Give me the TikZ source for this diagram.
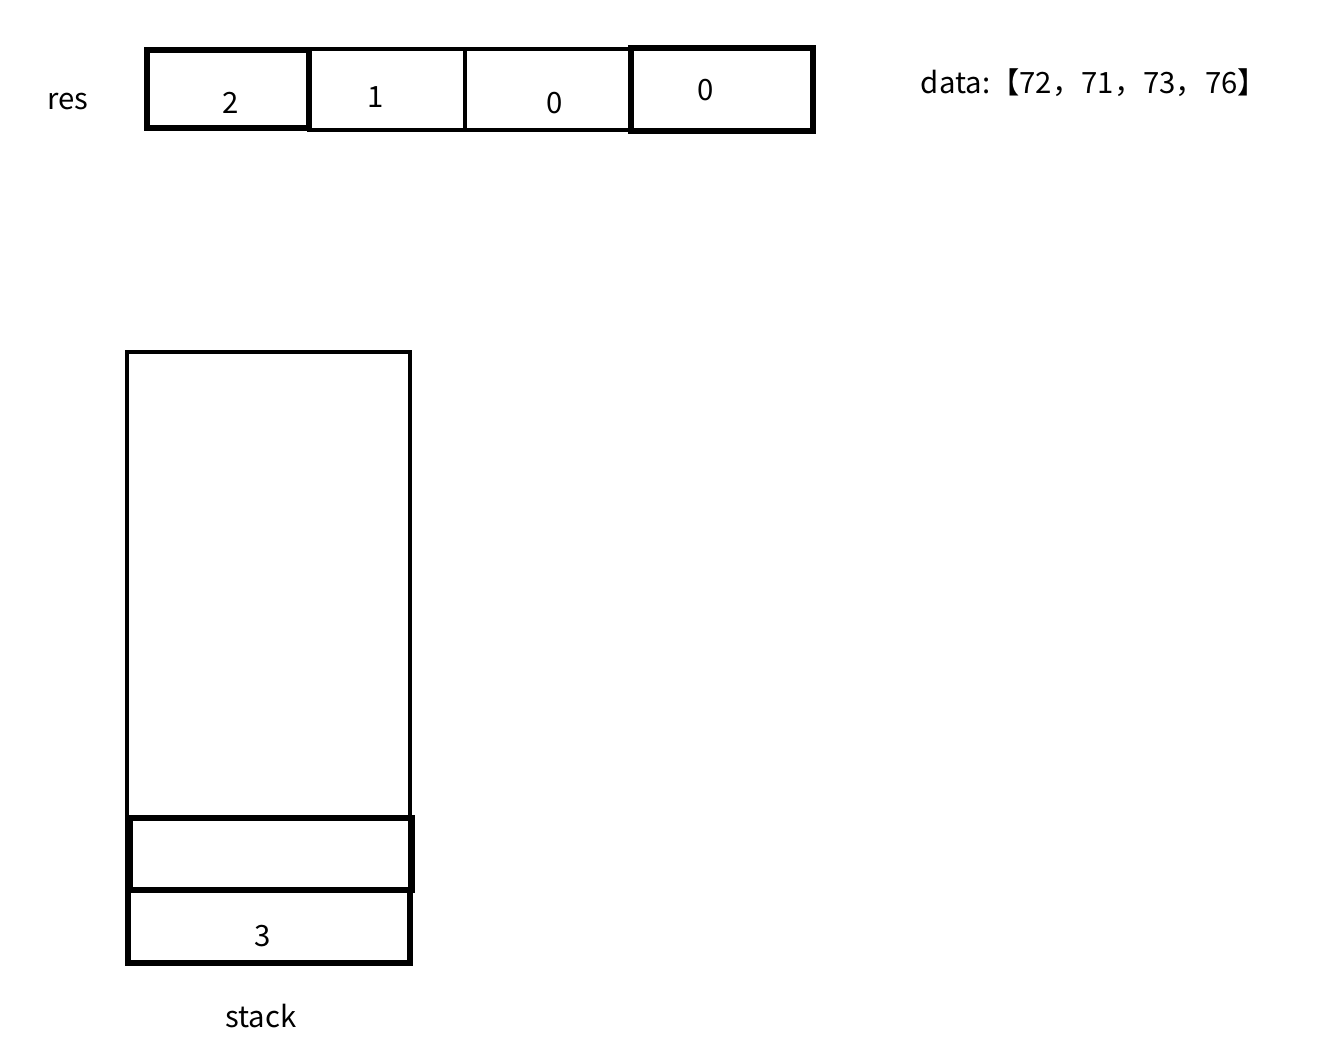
\documentclass[tikz,border=0pt]{standalone}
\usepackage{fontspec}
\setmainfont{Noto Sans CJK SC}
\tikzset{every picture/.style={line width=0.75pt}}
\tikzset{
	thin cell/.style={line width=3.2pt},
	thick cell/.style={line width=4.4pt},
	lbl/.style={inner sep=0.75pt, font=\fontsize{22}{26}\selectfont}
}
\begin{document}
\begin{tikzpicture}[x=0.75pt,y=0.75pt,yscale=-1,xscale=1]
	\useasboundingbox (0,0) rectangle (1318,1057);
	
	%Shape: Rectangle [res cell 0]
	\draw [thick cell]  (147,50) -- (309,50) -- (309,128) -- (147,128) -- cycle ;
	%Shape: Rectangle [res cell 1]
	\draw [thin cell]  (309,49) -- (465,49) -- (465,130) -- (309,130) -- cycle ;
	%Shape: Rectangle [res cell 2]
	\draw [thin cell]  (465,49) -- (631,49) -- (631,130) -- (465,130) -- cycle ;
	%Shape: Rectangle [res cell 3]
	\draw [thick cell]  (631,48) -- (813,48) -- (813,131) -- (631,131) -- cycle ;
	
	%Shape: Rectangle [stack outer]
	\draw [thin cell]  (127,352) -- (410,352) -- (410,963) -- (127,963) -- cycle ;
	%Shape: Rectangle [stack slot]
	\draw [thick cell]  (130,818) -- (412,818) -- (412,890) -- (130,890) -- cycle ;
	%Shape: Rectangle [stack bottom]
	\draw [thick cell]  (128,890) -- (410,890) -- (410,963) -- (128,963) -- cycle ;
	
	\node [lbl] (res) at (68,102) {res};
	\node [lbl] (r0) at (231,103) {2};
	\node [lbl] (r1) at (376,97) {1};
	\node [lbl] (r2) at (555,103) {0};
	\node [lbl] (r3) at (706,90) {0};
	\node [lbl] (data) at (1094,83) {data:【72，71，73，76】};
	\node [lbl] (s0) at (263,936) {3};
	\node [lbl] (stk) at (261,1016) {stack};
	
\end{tikzpicture}
\end{document}
